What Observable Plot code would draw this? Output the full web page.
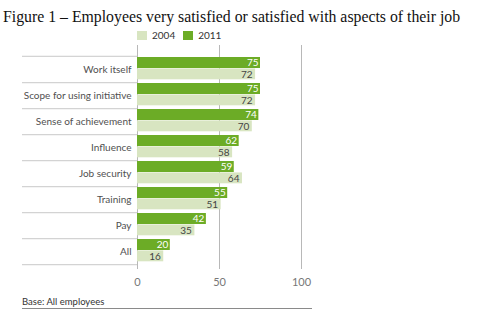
<!DOCTYPE html>
<html>
<head>
<meta charset="utf-8">
<script src="https://cdn.jsdelivr.net/npm/d3@7"></script>
<script src="https://cdn.jsdelivr.net/npm/@observablehq/plot@0.6"></script>
<style>
  html, body { margin: 0; padding: 0; background: #fff; }
  #wrap { position: relative; width: 477px; height: 323px; overflow: hidden; }
  #title { position: absolute; left: 3px; top: 9px; font-family: "Liberation Serif", "Times New Roman", serif; font-size: 15.8px; line-height: 16px; color: #111; white-space: nowrap; }
  #legend { position: absolute; left: 137px; top: 29px; display: flex; align-items: center; font-family: Lato, sans-serif; font-size: 10px; color: #333; }
  #legend .sw { width: 10px; height: 9px; display: inline-block; margin-right: 5px; }
  #legend .item { display: flex; align-items: center; margin-right: 8px; }
  #chart { position: absolute; left: 0; top: 40px; }
  #base { position: absolute; left: 22px; top: 296px; font-family: Lato, sans-serif; font-size: 9.5px; color: #333; }
  #baseline { position: absolute; left: 22px; top: 308px; width: 290px; height: 0; border-top: 1.5px solid #8a8a8a; }
</style>
</head>
<body>
<div id="wrap">
  <div id="title">Figure 1 – Employees very satisfied or satisfied with aspects of their job</div>
  <div id="legend"></div>
  <div id="chart"></div>
  <div id="base">Base: All employees</div>
  <div id="baseline"></div>
</div>
<script>
const categories = ["Work itself", "Scope for using initiative", "Sense of achievement", "Influence", "Job security", "Training", "Pay", "All"];
const values2011 = [75, 75, 74, 62, 59, 55, 42, 20];
const values2004 = [72, 72, 70, 58, 64, 51, 35, 16];
const seriesNames = ["2004", "2011"];
const seriesColors = ["#d8e5c1", "#6cac26"];
const xTicks = [0, 50, 100];

// legend
const legend = document.getElementById("legend");
seriesNames.forEach((s, i) => {
  const item = document.createElement("span");
  item.className = "item";
  const sw = document.createElement("span");
  sw.className = "sw";
  sw.style.background = seriesColors[i];
  item.appendChild(sw);
  item.appendChild(document.createTextNode(s));
  legend.appendChild(item);
});

const rows2011 = categories.map((c, i) => ({category: c, value: values2011[i]}));
const rows2004 = categories.map((c, i) => ({category: c, value: values2004[i]}));

const W = 477, H = 283, mT = 5, mB = 54, mL = 137, mR = 176;
const padOuter = 0.24;
const step = (H - mT - mB) / (categories.length + 2 * padOuter);

const chart = Plot.plot({
  width: W,
  height: H,
  marginTop: mT,
  marginBottom: mB,
  marginLeft: mL,
  marginRight: mR,
  style: {fontFamily: "Lato, sans-serif", background: "transparent"},
  x: {domain: [0, 100]},
  y: {domain: categories, paddingInner: 0, paddingOuter: padOuter, align: 0.71},
  marks: [
    Plot.ruleX(xTicks, {stroke: "#b8b8b8", strokeWidth: 1}),
    Plot.barX(rows2004, {x: "value", y: "category", fill: seriesColors[0], insetTop: step * 0.47, insetBottom: 2.7}),
    Plot.barX(rows2011, {x: "value", y: "category", fill: seriesColors[1], insetTop: 1, insetBottom: step * 0.53}),
    Plot.text(rows2011, {x: "value", y: "category", text: d => String(d.value), textAnchor: "end", dx: -2, dy: -6.4, fill: "#fff", fontSize: 10}),
    Plot.text(rows2004, {x: "value", y: "category", text: d => String(d.value), textAnchor: "end", dx: -3, dy: 5, fill: "#444", fontSize: 10}),
    Plot.axisY({tickSize: 0, tickPadding: 6, fontSize: 10, color: "#505050", label: null}),
    Plot.axisY({tickSize: 115, dy: step / 2, tickFormat: () => "", stroke: "#c8c8c8", label: null}),
    Plot.axisY({ticks: [categories[0]], tickSize: 115, dy: -step / 2, tickFormat: () => "", stroke: "#c8c8c8", label: null}),
    Plot.axisX({ticks: xTicks, tickSize: 0, tickPadding: 9, fontSize: 11, color: "#777", label: null})
  ]
});
document.getElementById("chart").appendChild(chart);
</script>
</body>
</html>
